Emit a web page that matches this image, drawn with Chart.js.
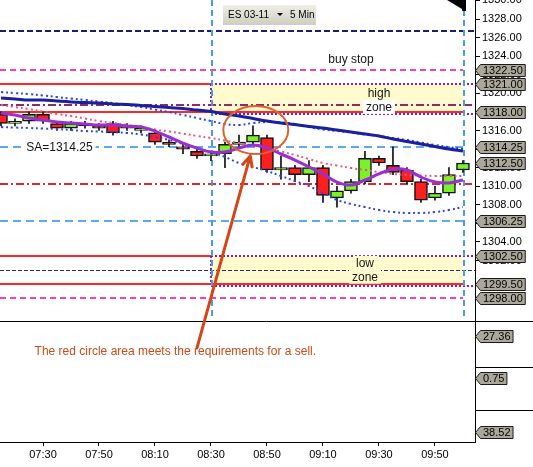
<!DOCTYPE html>
<html>
<head>
<meta charset="utf-8">
<script src="https://cdn.jsdelivr.net/npm/chart.js@4.4.0/dist/chart.umd.min.js"></script>
<style>
  html, body { margin: 0; padding: 0; background: #fff; }
  canvas { display: block; }
</style>
</head>
<body>
<canvas id="chart" width="533" height="467"></canvas>
<script>
// ES 03-11, 5 Min bars
const times = ["07:15","07:20","07:25","07:30","07:35","07:40","07:45","07:50","07:55","08:00","08:05","08:10","08:15","08:20","08:25","08:30","08:35","08:40","08:45","08:50","08:55","09:00","09:05","09:10","09:15","09:20","09:25","09:30","09:35","09:40","09:45","09:50","09:55","10:00"]
const opens  = [1317.75,1316.75,1317.0,1317.75,1316.75,1316.25,1316.75,1316.5,1316.75,1316.5,1316.0,1315.75,1314.75,1314.25,1313.75,1313.25,1313.5,1314.5,1314.75,1315.25,1311.75,1312.0,1311.25,1312.0,1308.75,1309.5,1310.5,1313.0,1312.25,1311.75,1310.5,1308.75,1309.25,1311.75]
const highs  = [1318.0,1317.25,1318.0,1318.0,1317.0,1317.0,1317.0,1316.75,1317.0,1316.75,1316.5,1316.0,1315.0,1314.5,1314.0,1313.75,1314.75,1315.5,1316.5,1315.5,1313.25,1312.25,1312.75,1312.25,1310.0,1310.75,1313.75,1313.25,1314.25,1312.0,1310.75,1310.0,1312.0,1312.75]
const lows   = [1316.5,1316.5,1316.75,1316.75,1316.0,1316.0,1316.25,1316.0,1315.5,1316.0,1315.75,1314.5,1314.25,1313.5,1313.0,1312.75,1312.0,1314.25,1314.5,1311.5,1310.75,1310.5,1310.5,1308.25,1307.75,1309.25,1310.25,1312.25,1311.25,1310.25,1308.25,1308.5,1309.0,1311.5]
const closes = [1316.75,1317.0,1317.75,1317.0,1316.25,1316.75,1316.5,1316.25,1315.75,1316.25,1316.25,1314.75,1314.5,1314.0,1313.25,1313.5,1314.5,1314.75,1315.5,1311.75,1312.0,1311.25,1312.0,1309.0,1309.5,1310.5,1313.0,1312.5,1311.5,1310.5,1308.5,1309.25,1311.25,1312.5]

// indicator lines
const maFast    = [1317.88,1317.67,1317.34,1317.13,1316.91,1316.81,1316.70,1316.59,1316.59,1316.48,1316.37,1315.94,1315.30,1314.65,1314.11,1313.68,1313.68,1314.11,1314.44,1314.11,1313.47,1312.82,1312.07,1311.32,1310.45,1310.13,1310.67,1311.32,1311.85,1311.75,1310.99,1310.45,1310.35,1310.67]
const maSlow    = [1319.50,1319.39,1319.28,1319.28,1319.17,1319.07,1319.01,1318.96,1318.85,1318.80,1318.69,1318.58,1318.47,1318.37,1318.20,1318.04,1317.77,1317.56,1317.29,1317.02,1316.81,1316.64,1316.43,1316.27,1316.05,1315.84,1315.62,1315.41,1315.08,1314.81,1314.55,1314.28,1314.01,1313.79]
const bandUpper = [1320.14,1320.03,1319.93,1319.77,1319.60,1319.44,1319.28,1319.12,1318.96,1318.74,1318.53,1318.26,1317.99,1317.67,1317.34,1317.02,1316.70,1316.59,1316.81,1316.91,1316.86,1316.70,1316.37,1316.11,1315.94,1315.78,1315.57,1315.41,1315.19,1314.98,1314.71,1314.44,1314.22,1314.01]
const bandMid   = [1318.74,1318.53,1318.31,1318.04,1317.77,1317.56,1317.29,1317.02,1316.81,1316.59,1316.37,1316.11,1315.89,1315.67,1315.41,1315.19,1314.92,1314.65,1314.38,1314.11,1313.74,1313.36,1312.93,1312.50,1312.23,1311.96,1311.75,1311.53,1311.32,1311.21,1311.15,1311.10,1311.10,1311.10]
const bandLower = [1316.37,1316.32,1316.27,1316.21,1316.16,1316.05,1315.94,1315.89,1315.84,1315.73,1315.57,1315.30,1314.98,1314.55,1314.11,1313.68,1313.15,1312.50,1312.07,1311.64,1311.10,1310.56,1310.02,1309.27,1308.52,1308.09,1307.76,1307.44,1307.22,1307.12,1307.12,1307.22,1307.44,1307.76]

// axis ticks
const timeTicks  = ["07:30","07:50","08:10","08:30","08:50","09:10","09:30","09:50"]
const priceTicks = [1330,1328,1326,1324,1322,1320,1318,1316,1314,1312,1310,1308,1306,1304,1302,1298]

// levels drawn on the price pane
const topStop = 1326.75
const buyStop = 1322.5
const highZone = [1321.0, 1318.0]
const highMid = 1318.75
const saLevel = 1314.25
const pivotLevel = 1310.25
const lowerLevel = 1306.25
const lowZone = [1302.5, 1299.5]
const lowMid = 1301.0
const sellStop = 1298.0
const zoneStart = "08:30"
const zoneEnd = "10:00"
const tagPrices = [1322.5, 1321.0, 1318.0, 1314.25, 1312.5, 1306.25, 1302.5, 1299.5, 1298.0]

// lower panes: last values
const pane2Value = 27.36
const pane3Value = 0.75
const pane4Value = 38.52

// annotation
const noteText = "The red circle area meets the requirements for a sell."
const circleCenter = { time: "08:46", price: 1316.05 }
const circleRadius = { minutes: 11.6, points: 2.58 }
const arrowBase = { time: "08:25", price: 1292.6 }
const arrowTip = { time: "08:44", price: 1313.25 }
const noteAnchor = { time: "07:27", value: 13.3 }

const FONT = '"Liberation Sans", Arial, sans-serif'

function toMin(t) {
  const parts = t.split(":").map(Number)
  return parts[0] * 60 + parts[1]
}

function fmtTime(v) {
  const h = Math.floor(v / 60)
  const m = Math.round(v - h * 60)
  return String(h).padStart(2, "0") + ":" + String(m).padStart(2, "0")
}

function hline(ctx, py, x0, x1, color, width, dash) {
  const yy = width % 2 === 1 ? Math.round(py) + 0.5 : Math.round(py)
  ctx.beginPath()
  ctx.setLineDash(dash || [])
  ctx.strokeStyle = color
  ctx.lineWidth = width
  ctx.moveTo(x0, yy)
  ctx.lineTo(x1, yy)
  ctx.stroke()
}

function vline(ctx, px, y0, y1, color, width, dash) {
  const xx = Math.round(px)
  ctx.beginPath()
  ctx.setLineDash(dash || [])
  ctx.strokeStyle = color
  ctx.lineWidth = width
  ctx.moveTo(xx, y0)
  ctx.lineTo(xx, y1)
  ctx.stroke()
}

function drawLabel(ctx, text, px, py, align, bg) {
  ctx.font = "12px " + FONT
  const w = ctx.measureText(text).width
  const left = align === "left" ? px : px - w / 2
  if (bg) {
    ctx.fillStyle = bg
    ctx.fillRect(left - 3, py - 7, w + 6, 14)
  }
  ctx.fillStyle = "#151515"
  ctx.textAlign = "left"
  ctx.textBaseline = "middle"
  ctx.fillText(text, left, py + 0.5)
}

function drawTag(ctx, px, py, text) {
  ctx.font = "11px " + FONT
  const w = ctx.measureText(text).width
  const h = 12
  const yy = Math.round(py) + 0.5
  ctx.setLineDash([])
  ctx.beginPath()
  ctx.moveTo(px + 0.5, yy)
  ctx.lineTo(px + 5.5, yy - h / 2)
  ctx.lineTo(px + 8 + w + 2.5, yy - h / 2)
  ctx.lineTo(px + 8 + w + 2.5, yy + h / 2)
  ctx.lineTo(px + 5.5, yy + h / 2)
  ctx.closePath()
  ctx.fillStyle = "#aba89a"
  ctx.fill()
  ctx.strokeStyle = "#1b1b1b"
  ctx.lineWidth = 1
  ctx.stroke()
  ctx.fillStyle = "#000"
  ctx.textAlign = "left"
  ctx.textBaseline = "middle"
  ctx.fillText(text, px + 8, yy + 0.5)
}

// price pane background: zones, levels, labels
const levelsPlugin = {
  id: "levels",
  beforeDatasetsDraw(chart) {
    const ctx = chart.ctx
    const x = chart.scales.x
    const y = chart.scales.y
    const L = chart.chartArea.left
    const R = chart.chartArea.right
    const zx0 = x.getPixelForValue(toMin(zoneStart))
    const zx1 = x.getPixelForValue(toMin(zoneEnd))

    ctx.save()
    ctx.beginPath()
    ctx.rect(L, y.top, R - L, y.bottom - y.top)
    ctx.clip()

    // zone fill
    ctx.fillStyle = "#fffbcf"
    const zones = [highZone, lowZone]
    zones.forEach((z) => {
      const t = y.getPixelForValue(z[0])
      const b = y.getPixelForValue(z[1])
      ctx.fillRect(zx0, t, zx1 - zx0, b - t)
    })

    hline(ctx, y.getPixelForValue(topStop), L, R, "#1d1d6e", 2, [6, 3])
    hline(ctx, y.getPixelForValue(buyStop), L, zx1, "#ff3fa3", 2, [6, 4])
    hline(ctx, y.getPixelForValue(highZone[0]), L, zx0, "#ff2727", 2)
    hline(ctx, y.getPixelForValue(highZone[1]), L, zx1, "#ff2727", 2)
    hline(ctx, y.getPixelForValue(highMid), L, R, "#8f2d62", 2, [8, 3, 2, 3])
    hline(ctx, y.getPixelForValue(saLevel), L, zx1, "#62a6ec", 2, [8, 5])
    hline(ctx, y.getPixelForValue(pivotLevel), L, R, "#e3242b", 2, [8, 3, 2, 3])
    hline(ctx, y.getPixelForValue(lowerLevel), L, zx1, "#62a6ec", 2, [8, 5])
    hline(ctx, y.getPixelForValue(lowZone[0]), L, zx0, "#ff2727", 2)
    hline(ctx, y.getPixelForValue(lowMid), L, R, "#2b2b66", 1, [4, 2])
    hline(ctx, y.getPixelForValue(lowZone[1]), L, zx1, "#ff2727", 2)
    hline(ctx, y.getPixelForValue(sellStop), L, zx1, "#ff3fa3", 2, [6, 4])

    // zone edges, purple dotted
    zones.forEach((z) => {
      const t = y.getPixelForValue(z[0])
      const b = y.getPixelForValue(z[1])
      hline(ctx, t, zx0, R, "#8a1f9e", 2, [2, 2])
      hline(ctx, b + 2, zx0, R, "#8a1f9e", 2, [2, 2])
      vline(ctx, zx0, t, b, "#8a1f9e", 2, [2, 2])
    })

    // session markers
    vline(ctx, x.getPixelForValue(toMin(zoneStart)) + 1, y.top, y.bottom - 5, "#4a9be6", 2, [6, 4])
    vline(ctx, x.getPixelForValue(toMin(zoneEnd)) + 1, y.top, y.bottom - 5, "#4a9be6", 2, [6, 4])

    ctx.setLineDash([])
    drawLabel(ctx, "buy stop", x.getPixelForValue(toMin("09:20")), y.getPixelForValue(buyStop) - 11, "center")
    drawLabel(ctx, "high", x.getPixelForValue(toMin("09:30")), y.getPixelForValue(highZone[0]) + 9, "center")
    drawLabel(ctx, "zone", x.getPixelForValue(toMin("09:30")), y.getPixelForValue(highZone[1]) - 5, "center", "#ffffff")
    drawLabel(ctx, "low", x.getPixelForValue(toMin("09:25")), y.getPixelForValue(lowZone[0]) + 7, "center", "#fffbcf")
    drawLabel(ctx, "zone", x.getPixelForValue(toMin("09:25")), y.getPixelForValue(lowZone[1]) - 7, "center", "#fffbcf")
    drawLabel(ctx, "SA=" + saLevel.toFixed(2), x.getPixelForValue(toMin("07:24")), y.getPixelForValue(saLevel), "left", "#ffffff")

    ctx.restore()
  },

  afterDraw(chart) {
    const ctx = chart.ctx
    const x = chart.scales.x
    const y = chart.scales.y
    const y2 = chart.scales.y2
    const y3 = chart.scales.y3
    const y4 = chart.scales.y4
    const L = chart.chartArea.left
    const R = chart.chartArea.right
    const W = chart.width

    ctx.save()
    ctx.setLineDash([])

    // pane separators
    hline(ctx, y2.top, L, W, "#000", 1)
    hline(ctx, y3.top, R, W, "#000", 1)
    hline(ctx, y4.top, R, W, "#000", 1)

    // value tags
    tagPrices.forEach((p) => drawTag(ctx, R, y.getPixelForValue(p), p.toFixed(2)))
    drawTag(ctx, R, y2.getPixelForValue(pane2Value), pane2Value.toFixed(2))
    drawTag(ctx, R, y3.getPixelForValue(pane3Value), pane3Value.toFixed(2))
    drawTag(ctx, R, y4.getPixelForValue(pane4Value), pane4Value.toFixed(2))

    // red circle
    const cx = x.getPixelForValue(toMin(circleCenter.time))
    const cy = y.getPixelForValue(circleCenter.price)
    const rx = x.getPixelForValue(toMin(circleCenter.time) + circleRadius.minutes) - cx
    const ry = cy - y.getPixelForValue(circleCenter.price + circleRadius.points)
    ctx.beginPath()
    ctx.ellipse(cx, cy, rx, ry, 0, 0, Math.PI * 2)
    ctx.strokeStyle = "#d8642c"
    ctx.lineWidth = 2
    ctx.stroke()

    // arrow
    const ax0 = x.getPixelForValue(toMin(arrowBase.time))
    const ay0 = y.getPixelForValue(arrowBase.price)
    const ax1 = x.getPixelForValue(toMin(arrowTip.time))
    const ay1 = y.getPixelForValue(arrowTip.price)
    const ang = Math.atan2(ay1 - ay0, ax1 - ax0)
    ctx.strokeStyle = "#d2461a"
    ctx.lineWidth = 3
    ctx.lineCap = "round"
    ctx.beginPath()
    ctx.moveTo(ax0, ay0)
    ctx.lineTo(ax1, ay1)
    ctx.moveTo(ax1 - 11 * Math.cos(ang - 0.45), ay1 - 11 * Math.sin(ang - 0.45))
    ctx.lineTo(ax1, ay1)
    ctx.lineTo(ax1 - 11 * Math.cos(ang + 0.45), ay1 - 11 * Math.sin(ang + 0.45))
    ctx.stroke()

    // note text
    ctx.font = "12px " + FONT
    ctx.fillStyle = "#c94b1c"
    ctx.textAlign = "left"
    ctx.textBaseline = "middle"
    ctx.fillText(noteText, x.getPixelForValue(toMin(noteAnchor.time)), y2.getPixelForValue(noteAnchor.value))

    // instrument box
    const bx = L + 223
    const by = y.top + 5
    const grad = ctx.createLinearGradient(0, by, 0, by + 20)
    grad.addColorStop(0, "#efeee8")
    grad.addColorStop(1, "#cfcdc0")
    ctx.fillStyle = grad
    ctx.fillRect(bx, by, 93, 20)
    ctx.font = "10px " + FONT
    ctx.fillStyle = "#000"
    ctx.fillText("ES 03-11", bx + 5, by + 10.5)
    ctx.beginPath()
    ctx.moveTo(bx + 54, by + 8)
    ctx.lineTo(bx + 60, by + 8)
    ctx.lineTo(bx + 57, by + 11)
    ctx.closePath()
    ctx.fill()
    ctx.fillText("5 Min", bx + 67, by + 10.5)

    // flag icon at top right
    ctx.fillStyle = "#000"
    ctx.beginPath()
    ctx.moveTo(R - 28, y.top)
    ctx.lineTo(R - 13, y.top)
    ctx.lineTo(R - 13, y.top + 9)
    ctx.closePath()
    ctx.fill()
    ctx.fillRect(R - 13, y.top, 4, 11)

    ctx.restore()
  },
}

const xMin = toMin(times[0]) - 0.36
const xMax = toMin(times[times.length - 1]) + 4.3

function series(values) {
  return times.map((t, i) => ({ x: toMin(t), y: values[i] }))
}

function lowerPane(weight, min, max) {
  return {
    type: "linear",
    position: "right",
    stack: "pane",
    stackWeight: weight,
    min: min,
    max: max,
    ticks: { display: false },
    grid: { display: false },
    border: { display: true, color: "#000", width: 1 },
    afterFit: (s) => {
      s.width = 58
      s.paddingTop = 0
      s.paddingBottom = 0
    },
  }
}

const candleColors = opens.map((o, i) => (closes[i] >= o ? "#7cf02a" : "#ff1f1f"))

const ctx = document.getElementById("chart")
window.priceChart = new Chart(ctx, {
  type: "bar",
  data: {
    datasets: [
      {
        type: "line",
        label: "maFast",
        data: series(maFast),
        borderColor: "#9a2fd2",
        borderWidth: 3,
        pointRadius: 0,
        tension: 0.4,
        order: -4,
        yAxisID: "y",
      },
      {
        type: "line",
        label: "maSlow",
        data: series(maSlow),
        borderColor: "#1b209c",
        borderWidth: 3,
        pointRadius: 0,
        tension: 0.4,
        order: -3,
        yAxisID: "y",
      },
      {
        type: "line",
        label: "bandUpper",
        data: series(bandUpper),
        borderColor: "#2a43e6",
        borderWidth: 2,
        borderDash: [2, 3],
        pointRadius: 0,
        tension: 0.4,
        order: -2,
        yAxisID: "y",
      },
      {
        type: "line",
        label: "bandMid",
        data: series(bandMid),
        borderColor: "#e05c7c",
        borderWidth: 2,
        borderDash: [2, 3],
        pointRadius: 0,
        tension: 0.4,
        order: -2,
        yAxisID: "y",
      },
      {
        type: "line",
        label: "bandLower",
        data: series(bandLower),
        borderColor: "#2a43e6",
        borderWidth: 2,
        borderDash: [2, 3],
        pointRadius: 0,
        tension: 0.4,
        order: -2,
        yAxisID: "y",
      },
      {
        type: "bar",
        label: "body",
        data: times.map((t, i) => ({ x: toMin(t), y: [opens[i], closes[i]] })),
        backgroundColor: candleColors,
        borderColor: "#111",
        borderWidth: 1.5,
        borderSkipped: false,
        barThickness: 13,
        grouped: false,
        order: 0,
        yAxisID: "y",
      },
      {
        type: "bar",
        label: "wick",
        data: times.map((t, i) => ({ x: toMin(t), y: [lows[i], highs[i]] })),
        backgroundColor: "#111",
        barThickness: 1,
        grouped: false,
        order: 1,
        yAxisID: "y",
      },
    ],
  },
  options: {
    responsive: false,
    animation: false,
    devicePixelRatio: 1,
    layout: { padding: 0 },
    plugins: {
      legend: { display: false },
      tooltip: { enabled: false },
    },
    scales: {
      x: {
        type: "linear",
        position: "bottom",
        offset: false,
        min: xMin,
        max: xMax,
        afterBuildTicks: (s) => {
          s.ticks = timeTicks.map((t) => ({ value: toMin(t) }))
        },
        ticks: {
          callback: (v) => fmtTime(v),
          font: { family: FONT, size: 11 },
          color: "#000",
          padding: 2,
          maxRotation: 0,
          autoSkip: false,
        },
        grid: {
          display: true,
          offset: false,
          drawOnChartArea: false,
          drawTicks: true,
          tickLength: 4,
          color: "#000",
          tickColor: "#000",
        },
        border: { display: true, color: "#000", width: 1 },
        afterFit: (s) => {
          s.height = 25
          s.paddingLeft = 0
          s.paddingRight = 0
        },
      },
      y: {
        type: "linear",
        position: "right",
        stack: "pane",
        stackWeight: 321,
        min: 1295.49,
        max: 1330.05,
        afterBuildTicks: (s) => {
          s.ticks = priceTicks.map((v) => ({ value: v }))
        },
        ticks: {
          callback: (v) => Number(v).toFixed(2),
          font: { family: FONT, size: 11 },
          color: "#000",
          padding: 2,
          autoSkip: false,
        },
        grid: {
          display: true,
          drawOnChartArea: false,
          drawTicks: true,
          tickLength: 5,
          color: "#000",
          tickColor: "#000",
        },
        border: { display: true, color: "#000", width: 1 },
        afterFit: (s) => {
          s.width = 58
          s.paddingTop = 0
          s.paddingBottom = 0
        },
      },
      y2: lowerPane(46, 0, 40),
      y3: lowerPane(43, -0.5, 1.2),
      y4: lowerPane(32, 20, 80),
    },
  },
  plugins: [levelsPlugin],
})
</script>
</body>
</html>
